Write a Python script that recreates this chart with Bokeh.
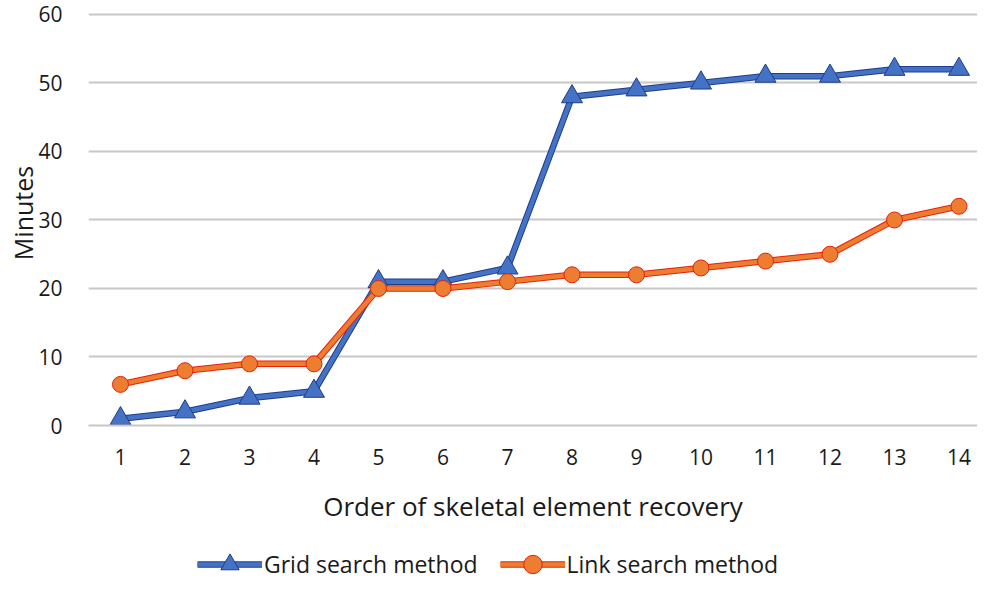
from bokeh.plotting import figure
from bokeh.layouts import column
from bokeh.models import Legend, LegendItem, FixedTicker, Range1d
from bokeh.embed import file_html
from bokeh.resources import INLINE

# Data
orders = [1, 2, 3, 4, 5, 6, 7, 8, 9, 10, 11, 12, 13, 14]
grid_search = [1, 2, 4, 5, 21, 21, 23, 48, 49, 50, 51, 51, 52, 52]
link_search = [6, 8, 9, 9, 20, 20, 21, 22, 22, 23, 24, 25, 30, 32]
y_ticks = [0, 10, 20, 30, 40, 50, 60]
series_names = ["Grid search method", "Link search method"]

FONT = "Open Sans"
TXT = "#1a1a1a"
GRID = "#C8C8C8"
BLUE, BLUE_EDGE = "#4472C4", "#1F3C8A"
ORANGE, ORANGE_EDGE = "#ED7D31", "#E8200C"

MAIN_H, LEG_H = 547, 34
FRAME_LEFT = 88

p = figure(width=977, height=MAIN_H,
           x_range=Range1d(0.504, 14.287), y_range=Range1d(0, 62.04),
           output_backend="svg", toolbar_location=None,
           min_border_left=FRAME_LEFT, min_border_right=0,
           min_border_top=0, min_border_bottom=MAIN_H - 425)
p.outline_line_color = None
p.background_fill_color = "white"
p.border_fill_color = "white"

p.xgrid.visible = False
p.ygrid.grid_line_color = GRID
p.ygrid.grid_line_width = 2
p.ygrid.ticker = FixedTicker(ticks=y_ticks)

# Axes
p.yaxis.ticker = FixedTicker(ticks=y_ticks)
p.xaxis.ticker = FixedTicker(ticks=orders)
for ax in (p.xaxis[0], p.yaxis[0]):
    ax.major_tick_line_color = None
    ax.minor_tick_line_color = None
    ax.major_label_text_font = FONT
    ax.major_label_text_font_size = "21px"
    ax.major_label_text_color = TXT
    ax.axis_label_text_font = FONT
    ax.axis_label_text_font_style = "normal"
    ax.axis_label_text_color = TXT
p.xaxis.axis_label_text_font_size = "26px"
p.yaxis.axis_label_text_font_size = "25px"
p.yaxis.axis_line_color = None
p.xaxis.axis_line_color = GRID
p.xaxis.axis_line_width = 2
p.yaxis.major_label_standoff = 20
p.xaxis.major_label_standoff = 17
p.yaxis.axis_label = "Minutes"
p.xaxis.axis_label = "Order of skeletal element recovery"
p.yaxis.axis_label_standoff = -5
p.xaxis.axis_label_standoff = 20

# Grid search series
g1 = p.line(orders, grid_search, line_color=BLUE_EDGE, line_width=6.5)
g2 = p.line(orders, grid_search, line_color=BLUE, line_width=4.5)
g3 = p.scatter(orders, grid_search, marker="triangle", size=21,
               fill_color=BLUE, line_color=BLUE_EDGE, line_width=1)
# Link search series
l1 = p.line(orders, link_search, line_color=ORANGE_EDGE, line_width=6.5)
l2 = p.line(orders, link_search, line_color=ORANGE, line_width=4.5)
l3 = p.scatter(orders, link_search, marker="circle", size=16,
               fill_color=ORANGE, line_color=ORANGE_EDGE, line_width=1)

# Legend strip below the chart (its own small figure; keys are placeholder renderers)
q = figure(width=977, height=LEG_H, x_range=Range1d(0, 1), y_range=Range1d(0, 1),
           output_backend="svg", toolbar_location=None,
           min_border_left=FRAME_LEFT, min_border_right=0, min_border_top=0, min_border_bottom=0)
q.axis.visible = False
q.grid.visible = False
q.outline_line_color = None
q.background_fill_color = "white"
q.border_fill_color = "white"
nan = [float("nan")]
k1 = q.line(nan, nan, line_color=BLUE_EDGE, line_width=6.5)
k2 = q.line(nan, nan, line_color=BLUE, line_width=4.5)
k3 = q.scatter(nan, nan, marker="triangle", fill_color=BLUE, line_color=BLUE_EDGE, line_width=1)
m1 = q.line(nan, nan, line_color=ORANGE_EDGE, line_width=6.5)
m2 = q.line(nan, nan, line_color=ORANGE, line_width=4.5)
m3 = q.scatter(nan, nan, marker="circle", fill_color=ORANGE, line_color=ORANGE_EDGE, line_width=1)

GLYPH_H = 46
legend = Legend(items=[LegendItem(label=series_names[0], renderers=[k1, k2, k3]),
                       LegendItem(label=series_names[1], renderers=[m1, m2, m3])],
                orientation="horizontal", location=(197 - FRAME_LEFT, (LEG_H - GLYPH_H) / 2),
                label_text_font=FONT, label_text_font_size="23px",
                label_text_color=TXT, glyph_width=65, glyph_height=GLYPH_H,
                label_standoff=2, spacing=22, padding=0, margin=0,
                border_line_color=None, background_fill_alpha=0)
q.add_layout(legend, "center")

open("out.html", "w").write(file_html(column(p, q, spacing=0), INLINE))
